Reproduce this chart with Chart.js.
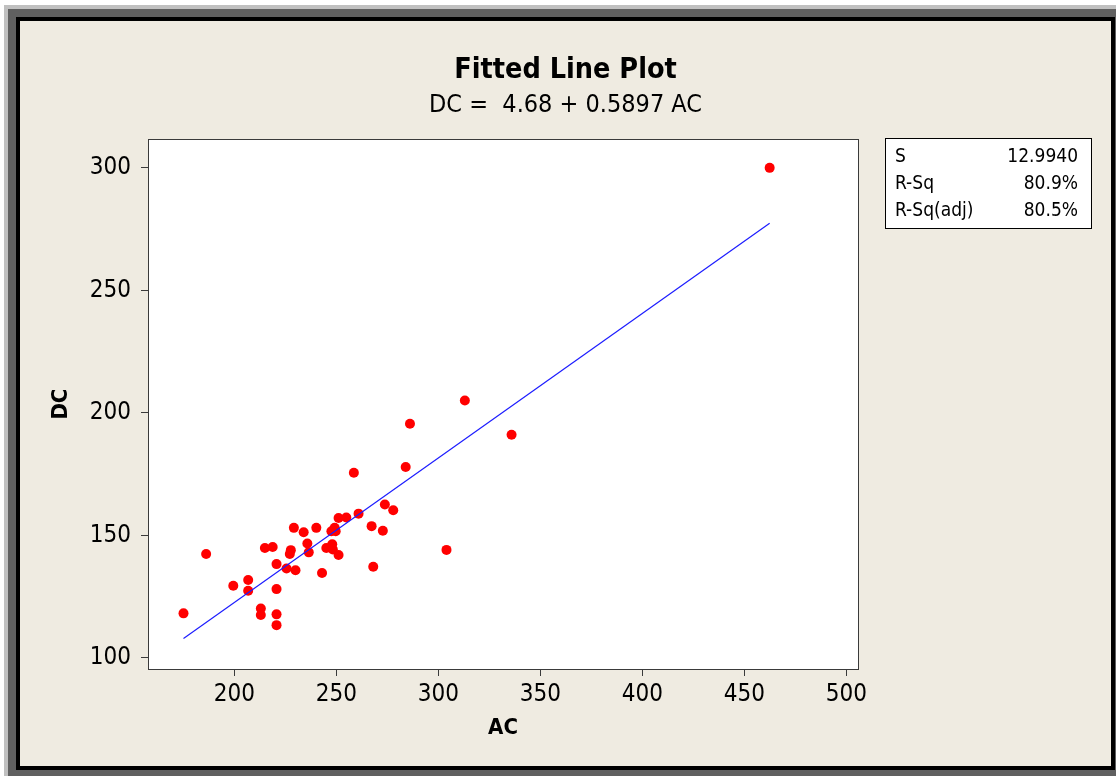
<!DOCTYPE html>
<html>
<head>
<meta charset="utf-8">
<script src="https://cdn.jsdelivr.net/npm/chart.js@4"></script>
<style>
  html, body { margin: 0; padding: 0; background: #ffffff; }
  .frame { position: absolute; }
  #f1 { left: 4px; top: 5px; width: 1112px; height: 771px; background: #c0c0c0; }
  #f2 { left: 8px; top: 9px; width: 1108px; height: 767px; background: #606060; }
  #f3 { left: 16px; top: 17px; width: 1099px; height: 753px; background: #000000; }
  #graph { position: absolute; left: 20px; top: 21px; background: #efebe1; }
</style>
</head>
<body>
<div class="frame" id="f1"></div>
<div class="frame" id="f2"></div>
<div class="frame" id="f3"></div>
<canvas id="graph" width="1091" height="745"></canvas>
<script>
// observed AC / DC pairs
const acValues = [175.1, 186.2, 199.5, 206.8, 206.8, 220.7, 213.0, 213.0, 220.7, 220.7,
                  215.0, 218.8, 220.7, 225.6, 230.0, 227.2, 227.7, 236.5, 235.8, 229.2,
                  234.0, 240.2, 243.0, 245.1, 248.0, 248.3, 251.1, 247.6, 249.2, 249.7,
                  251.1, 254.9, 260.9, 258.6, 267.3, 268.1, 272.8, 273.8, 277.9, 284.0,
                  286.1, 304.0, 313.0, 335.9, 462.4];
const dcValues = [118.2, 142.4, 129.5, 131.8, 127.4, 128.1, 120.2, 117.5, 117.8, 113.4,
                  144.9, 145.3, 138.3, 136.5, 135.8, 142.4, 144.0, 143.1, 146.7, 153.1,
                  151.3, 153.1, 134.7, 144.9, 146.4, 144.3, 142.0, 151.7, 153.1, 151.7,
                  157.1, 157.3, 158.9, 175.6, 153.8, 137.2, 151.9, 162.6, 160.3, 177.9,
                  195.6, 144.1, 205.1, 191.1, 300.0];

// fitted line end points
const fitAC = [175.1, 462.4];
const fitDC = [107.9, 277.4];

const xTicks = [200, 250, 300, 350, 400, 450, 500];
const yTicks = [100, 150, 200, 250, 300];

const statNames = ["S", "R-Sq", "R-Sq(adj)"];
const statValues = ["12.9940", "80.9%", "80.5%"];

const FONT = '"DejaVu Sans Condensed", "DejaVu Sans", sans-serif';
Chart.defaults.font.family = FONT;
Chart.defaults.color = '#000';

const points = acValues.map((x, i) => ({x: x, y: dcValues[i]}));
const fitPoints = fitAC.map((x, i) => ({x: x, y: fitDC[i]}));

const plotFrame = {
    id: 'plotFrame',
    beforeDraw(chart) {
        const a = chart.chartArea;
        const ctx = chart.ctx;
        ctx.save();
        ctx.fillStyle = '#ffffff';
        ctx.fillRect(a.left, a.top, a.right - a.left, a.bottom - a.top);
        ctx.restore();
    },
    afterDraw(chart) {
        const a = chart.chartArea;
        const ctx = chart.ctx;
        ctx.save();
        ctx.strokeStyle = '#3a3a3a';
        ctx.lineWidth = 1;
        ctx.strokeRect(Math.round(a.left) + 0.5, Math.round(a.top) + 0.5,
                       Math.round(a.right - a.left), Math.round(a.bottom - a.top));

        // stats box
        const bx = 865, by = 117, bw = 206, bh = 90;
        ctx.fillStyle = '#ffffff';
        ctx.fillRect(bx, by, bw, bh);
        ctx.strokeStyle = '#000';
        ctx.strokeRect(bx + 0.5, by + 0.5, bw, bh);
        ctx.fillStyle = '#000';
        ctx.font = '19px ' + FONT;
        ctx.textBaseline = 'middle';
        statNames.forEach((name, i) => {
            const y = 136 + i * 27;
            ctx.textAlign = 'left';
            ctx.fillText(name, 875, y);
            ctx.textAlign = 'right';
            ctx.fillText(statValues[i], 1058, y);
        });
        ctx.restore();
    }
};

new Chart(document.getElementById("graph"), {
    type: 'scatter',
    data: {
        datasets: [{
            label: 'Regression',
            type: 'line',
            data: fitPoints,
            borderColor: '#1c1cff',
            borderWidth: 1.2,
            pointRadius: 0,
            fill: false,
            order: 0
        }, {
            label: 'DC',
            data: points,
            backgroundColor: '#ff0000',
            borderColor: '#ff0000',
            borderWidth: 0,
            pointRadius: 5,
            order: 1
        }]
    },
    options: {
        responsive: false,
        animation: false,
        devicePixelRatio: 1,
        layout: { padding: 0 },
        plugins: {
            legend: { display: false },
            tooltip: { enabled: false },
            title: {
                display: true,
                text: 'Fitted Line Plot',
                color: '#000',
                font: { size: 28.5, weight: 'bold' },
                padding: { top: 32, bottom: 0 }
            },
            subtitle: {
                display: true,
                text: 'DC =  4.68 + 0.5897 AC',
                color: '#000',
                font: { size: 25 },
                padding: { top: 3, bottom: 19 }
            }
        },
        scales: {
            x: {
                type: 'linear',
                position: 'bottom',
                min: 157.7,
                max: 505.7,
                afterFit(scale) { scale.height = 97; },
                afterBuildTicks(scale) { scale.ticks = xTicks.map(v => ({value: v})); },
                ticks: { font: { size: 24 }, padding: 4, maxRotation: 0, color: '#000' },
                grid: { drawOnChartArea: false, drawTicks: true, tickLength: 7, color: '#3a3a3a' },
                border: { display: true, color: '#3a3a3a' },
                title: {
                    display: true,
                    text: 'AC',
                    color: '#000',
                    font: { size: 22, weight: 'bold' },
                    padding: { top: 0, bottom: 25 }
                }
            },
            y: {
                type: 'linear',
                position: 'left',
                min: 95.5,
                max: 311.7,
                afterFit(scale) { scale.width = 128; },
                afterBuildTicks(scale) { scale.ticks = yTicks.map(v => ({value: v})); },
                ticks: { font: { size: 24 }, padding: 10, color: '#000' },
                grid: { drawOnChartArea: false, drawTicks: true, tickLength: 7, color: '#3a3a3a' },
                border: { display: true, color: '#3a3a3a' },
                title: {
                    display: true,
                    text: 'DC',
                    color: '#000',
                    font: { size: 22, weight: 'bold' },
                    padding: { top: 28, bottom: 0 }
                }
            },
            // empty right-hand band that holds the stats box
            side: {
                type: 'linear',
                position: 'right',
                display: true,
                min: 95.5,
                max: 311.7,
                afterFit(scale) { scale.width = 253; },
                ticks: { display: false },
                grid: { display: false },
                border: { display: false }
            }
        }
    },
    plugins: [plotFrame]
});
</script>
</body>
</html>
